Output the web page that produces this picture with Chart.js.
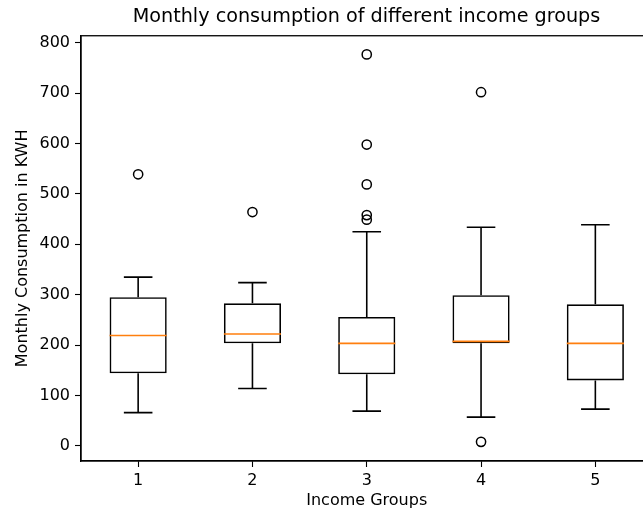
<!DOCTYPE html>
<html>
<head>
<meta charset="utf-8">
<script src="https://cdn.jsdelivr.net/npm/chart.js@4/dist/chart.umd.min.js"></script>
<style>
  html, body { margin: 0; padding: 0; background: #ffffff; overflow: hidden; }
  #wrap { position: absolute; left: 0; top: 0; width: 733px; height: 510px; }
</style>
</head>
<body>
<div id="wrap"><canvas id="c" width="733" height="510"></canvas></div>
<script>
// Income groups and box-plot statistics (monthly consumption, kWh)
const groups = [1, 2, 3, 4, 5];
const whiskerLow = [66, 114, 69, 57, 73];
const q1 = [144, 203.5, 142, 203.5, 130];
const median = [219, 222, 203.5, 207.5, 203.5];
const q3 = [295, 283, 256, 299, 281];
const whiskerHigh = [335, 324, 425, 434, 439];
const outliers = [[539], [464], [777, 598, 519, 458, 449], [702, 8], []];
const yTicks = [0, 100, 200, 300, 400, 500, 600, 700, 800];

const BOX_HALF = 0.25;   // half box width in x units
const CAP_HALF = 0.125;  // half cap width in x units
const BLACK = '#000000';
const ORANGE = '#ff7f0e';
const FONT = 'DejaVu Sans';

// Whisker stems and caps as broken line segments
const whiskerPts = [];
groups.forEach((g, i) => {
  whiskerPts.push({x: g, y: q1[i]}, {x: g, y: whiskerLow[i]}, {x: g, y: null});
  whiskerPts.push({x: g, y: q3[i]}, {x: g, y: whiskerHigh[i]}, {x: g, y: null});
  whiskerPts.push({x: g - CAP_HALF, y: whiskerLow[i]}, {x: g + CAP_HALF, y: whiskerLow[i]}, {x: g, y: null});
  whiskerPts.push({x: g - CAP_HALF, y: whiskerHigh[i]}, {x: g + CAP_HALF, y: whiskerHigh[i]}, {x: g, y: null});
});

// Median segments
const medianPts = [];
groups.forEach((g, i) => {
  medianPts.push({x: g - BOX_HALF, y: median[i]}, {x: g + BOX_HALF, y: median[i]}, {x: g, y: null});
});

// Outlier points
const outlierPts = [];
groups.forEach((g, i) => outliers[i].forEach(v => outlierPts.push({x: g, y: v})));

// Frame around the plotting area (all four spines)
const frame = {
  id: 'frame',
  afterDatasetsDraw(chart) {
    const {ctx, chartArea: a} = chart;
    ctx.save();
    ctx.strokeStyle = BLACK;
    ctx.lineWidth = 1.3;
    ctx.strokeRect(a.left, a.top, a.right - a.left, a.bottom - a.top);
    ctx.restore();
  }
};

new Chart(document.getElementById('c'), {
  data: {
    datasets: [
      {
        type: 'bar',
        label: 'box',
        data: groups.map((g, i) => ({x: g, y: [q1[i], q3[i]]})),
        backgroundColor: 'rgba(0,0,0,0)',
        borderColor: BLACK,
        borderWidth: 1.6,
        borderSkipped: false,
        barPercentage: 0.5,
        categoryPercentage: 1.0,
        order: 3
      },
      {
        type: 'line',
        label: 'whiskers',
        data: whiskerPts,
        borderColor: BLACK,
        borderWidth: 1.6,
        pointRadius: 0,
        spanGaps: false,
        fill: false,
        order: 2
      },
      {
        type: 'line',
        label: 'median',
        data: medianPts,
        borderColor: ORANGE,
        borderWidth: 1.6,
        pointRadius: 0,
        spanGaps: false,
        fill: false,
        order: 1
      },
      {
        type: 'scatter',
        label: 'outliers',
        data: outlierPts,
        pointStyle: 'circle',
        pointRadius: 4.6,
        pointBackgroundColor: 'rgba(0,0,0,0)',
        pointBorderColor: BLACK,
        pointBorderWidth: 1.5,
        order: 0
      }
    ]
  },
  options: {
    responsive: false,
    animation: false,
    events: [],
    layout: { padding: 0 },
    plugins: {
      legend: { display: false },
      tooltip: { enabled: false },
      title: {
        display: true,
        text: 'Monthly consumption of different income groups',
        color: BLACK,
        font: { family: FONT, size: 19.2, weight: 'normal' },
        padding: { top: 5, bottom: 7.7 }
      }
    },
    scales: {
      x: {
        type: 'linear',
        min: 0.5,
        max: 5.5,
        offset: false,
        afterBuildTicks: s => { s.ticks = groups.map(v => ({value: v})); },
        afterFit: s => { s.height = 49; },
        ticks: {
          color: BLACK,
          font: { family: FONT, size: 16 },
          padding: 4,
          maxRotation: 0,
          callback: v => String(v)
        },
        grid: { offset: false, drawOnChartArea: false, drawTicks: true, tickLength: 6, color: BLACK, tickWidth: 1.1 },
        border: { display: true, color: BLACK, width: 1.3 },
        title: {
          display: true,
          text: 'Income Groups',
          color: BLACK,
          font: { family: FONT, size: 16 },
          padding: { top: 0, bottom: 0 }
        }
      },
      y: {
        type: 'linear',
        min: -30,
        max: 814,
        afterBuildTicks: s => { s.ticks = yTicks.map(v => ({value: v})); },
        afterFit: s => { s.width = 81; },
        ticks: {
          color: BLACK,
          font: { family: FONT, size: 16 },
          padding: 5,
          callback: v => String(v)
        },
        grid: { drawOnChartArea: false, drawTicks: true, tickLength: 6, color: BLACK, tickWidth: 1.1 },
        border: { display: true, color: BLACK, width: 1.3 },
        title: {
          display: true,
          text: 'Monthly Consumption in KWH',
          color: BLACK,
          font: { family: FONT, size: 16 },
          padding: { top: 13, bottom: 0 }
        }
      },
      // blank margin on the right, mirroring the left axis width
      yRight: {
        type: 'linear',
        position: 'right',
        min: 0,
        max: 1,
        afterFit: s => { s.width = 80.5; },
        ticks: { display: false },
        grid: { display: false },
        border: { display: false },
        title: { display: false }
      }
    }
  },
  plugins: [frame]
});
</script>
</body>
</html>
